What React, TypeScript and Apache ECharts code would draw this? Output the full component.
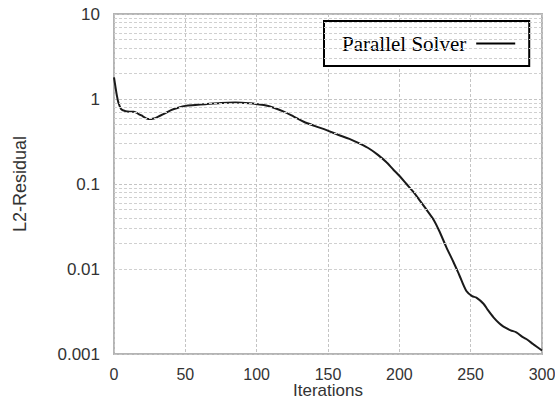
import React, { useEffect, useRef } from "react";
import * as echarts from "echarts";

const SERIES_NAME = "Parallel Solver";
const X_AXIS_NAME = "Iterations";
const Y_AXIS_NAME = "L2-Residual";

const ITERATIONS = [
  0, 1, 2, 3, 5, 8, 11, 14, 17, 20, 24, 28, 31, 35, 40, 45, 50, 57, 64, 75, 85,
  95, 105, 112, 119, 126, 133, 141, 149, 157, 165, 172, 179, 185, 191, 196,
  200, 205, 210, 214, 219, 224, 228, 233, 238, 242, 247, 251, 254, 259, 262,
  266, 270, 273, 278, 282, 286, 289, 294, 300,
];
const RESIDUALS = [
  1.8, 1.4, 1.1, 0.92, 0.76, 0.72, 0.71, 0.71, 0.67, 0.63, 0.58, 0.59, 0.62,
  0.67, 0.74, 0.79, 0.83, 0.85, 0.87, 0.9, 0.91, 0.89, 0.85, 0.79, 0.71, 0.62,
  0.54, 0.48, 0.43, 0.38, 0.34, 0.3, 0.26, 0.22, 0.18, 0.146, 0.125, 0.1, 0.08,
  0.065, 0.05, 0.038, 0.028, 0.018, 0.012, 0.0085, 0.0055, 0.0048, 0.0046,
  0.0039, 0.0033, 0.0027, 0.0023, 0.0021, 0.0019, 0.0018, 0.0016, 0.0015,
  0.0013, 0.0011,
];

const X_MIN = 0;
const X_MAX = 300;
const X_INTERVAL = 50;
const Y_MIN = 0.001;
const Y_MAX = 10;
const DECADES = [0.001, 0.01, 0.1, 1];
const MINOR_MULTIPLIERS = [2, 3, 4, 5, 6, 7, 8, 9];

export default function App() {
  const ref = useRef<HTMLDivElement>(null);

  useEffect(() => {
    if (!ref.current) return;
    const chart = echarts.init(ref.current, undefined, { renderer: "svg" });

    const minorValues: number[] = [];
    DECADES.forEach((d) =>
      MINOR_MULTIPLIERS.forEach((m) =>
        minorValues.push(Number((m * d).toPrecision(3)))
      )
    );

    const data = ITERATIONS.map((x, i) => [x, RESIDUALS[i]]);
    const sans = "Liberation Sans";
    const gridDash = { color: "#c4c4c4", width: 1, type: [3, 2] as any };

    chart.setOption({
      animation: false,
      backgroundColor: "#ffffff",
      grid: {
        left: 114,
        right: 13,
        top: 14,
        bottom: 46,
        outerBoundsMode: "none",
        containLabel: false,
        show: true,
        borderColor: "#b4b4b4",
        borderWidth: 2,
        backgroundColor: "transparent",
      },
      legend: {
        show: true,
        left: 324,
        top: 21,
        orient: "horizontal",
        align: "right",
        padding: [12, 14, 12, 18],
        borderColor: "#000",
        borderWidth: 2,
        backgroundColor: "#fff",
        itemWidth: 39,
        itemHeight: 2,
        data: [{ name: SERIES_NAME, icon: "rect" }],
        textStyle: {
          fontFamily: "Liberation Serif",
          fontSize: 21,
          color: "#000",
          padding: [0, 5, 0, 0],
        },
      },
      xAxis: {
        type: "value",
        min: X_MIN,
        max: X_MAX,
        interval: X_INTERVAL,
        name: X_AXIS_NAME,
        nameLocation: "middle",
        nameGap: 28,
        nameMoveOverlap: false,
        nameTextStyle: { fontFamily: sans, fontSize: 17, color: "#333" },
        axisLine: { show: false },
        axisTick: { show: false },
        axisLabel: {
          fontFamily: sans,
          fontSize: 16,
          color: "#333",
          margin: 12,
        },
        splitLine: { show: true, lineStyle: gridDash },
      },
      yAxis: {
        type: "log",
        logBase: 10,
        min: Y_MIN,
        max: Y_MAX,
        name: Y_AXIS_NAME,
        nameLocation: "middle",
        nameGap: 85,
        nameMoveOverlap: false,
        nameRotate: 90,
        nameTextStyle: { fontFamily: sans, fontSize: 18, color: "#333" },
        axisLine: { show: false },
        axisTick: { show: false },
        axisLabel: {
          fontFamily: sans,
          fontSize: 17,
          color: "#333",
          margin: 14,
          formatter: (v: number) => String(Number(v.toPrecision(6))),
        },
        splitLine: { show: true, lineStyle: gridDash },
      },
      series: [
        {
          name: SERIES_NAME,
          type: "line",
          data,
          smooth: 0.3,
          showSymbol: false,
          symbol: "none",
          lineStyle: { color: "#1a1a1a", width: 2 },
          itemStyle: { color: "#000" },
          markLine: {
            silent: true,
            symbol: "none",
            label: { show: false },
            lineStyle: { color: "#d0d0d0", width: 1, type: [3, 2] },
            data: minorValues.map((v) => ({ yAxis: v })),
          },
          z: 3,
        },
      ],
    });

    return () => chart.dispose();
  }, []);

  return (
    <div
      ref={ref}
      style={{ position: "fixed", left: 0, top: 0, width: 555, height: 400 }}
    />
  );
}
